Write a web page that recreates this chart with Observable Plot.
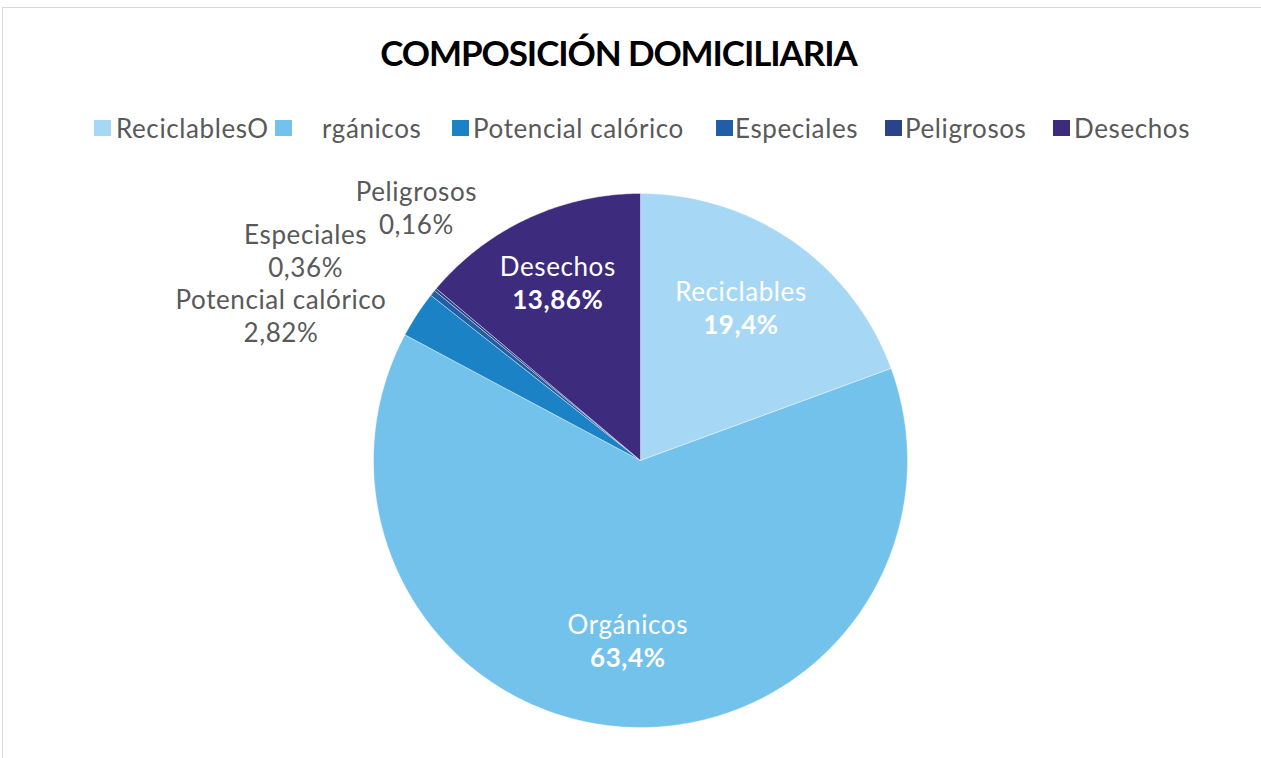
<!DOCTYPE html>
<html>
<head>
<meta charset="utf-8">
<script src="https://cdn.jsdelivr.net/npm/d3@7"></script>
<script src="https://cdn.jsdelivr.net/npm/@observablehq/plot@0.6"></script>
<style>
  html, body { margin: 0; padding: 0; background: #fff; }
  #wrap { position: relative; width: 1261px; height: 758px; overflow: hidden; font-family: Lato, "Open Sans", sans-serif; }
  #frame { position: absolute; left: 2px; top: 7px; width: 1300px; height: 800px; border-left: 1.5px solid #d9d9d9; border-top: 1.5px solid #d9d9d9; }
  #title { position: absolute; left: -12px; width: 1261px; top: 31px; text-align: center; font-size: 35px; font-weight: 700; letter-spacing: -1.1px; color: #000; }
  .leg { position: absolute; top: 113px; font-size: 26px; letter-spacing: 0.6px; color: #595959; white-space: pre; line-height: 30px; }
  .sw { position: absolute; top: 120px; width: 17px; height: 16px; }
  #chart { position: absolute; left: 0; top: 0; }
</style>
</head>
<body>
<div id="wrap">
  <div id="frame"></div>
  <div id="title">COMPOSICIÓN DOMICILIARIA</div>
  <div id="legend"></div>
  <div id="chart"></div>
</div>
<script>
// ---- data ----
const categories = ["Reciclables", "Orgánicos", "Potencial calórico", "Especiales", "Peligrosos", "Desechos"];
const values = [19.4, 63.4, 2.82, 0.36, 0.16, 13.86];
const valueLabels = ["19,4%", "63,4%", "2,82%", "0,36%", "0,16%", "13,86%"];
const colors = ["#a6d8f5", "#73c2ec", "#1a82c5", "#215ea6", "#2b4388", "#3d2b7e"];
const legendLabels = ["ReciclablesO", "rgánicos", "Potencial calórico", "Especiales", "Peligrosos", "Desechos"];
const insideLabel = [true, true, false, false, false, true];

// ---- layout (not data) ----
const cx = 640, cy = 460, R = 267;
const legendSwatchX = [94, 275, 452, 716, 885, 1053];
const legendTextX = [116, 322, 473, 735, 905, 1074];
const labelNudge = { // pixel nudges from the anchor point on the slice's mid-angle
  "Reciclables": [-5, 0],
  "Orgánicos": [0, -2],
  "Desechos": [-5, -9],
  "Potencial calórico": [-136, 3],
  "Especiales": [-127, -41],
  "Peligrosos": [-19, -80]
};

// legend
const legend = document.getElementById("legend");
legendLabels.forEach((t, i) => {
  const sw = document.createElement("div");
  sw.className = "sw"; sw.style.left = legendSwatchX[i] + "px"; sw.style.background = colors[i];
  legend.appendChild(sw);
  const tx = document.createElement("div");
  tx.className = "leg"; tx.style.left = legendTextX[i] + "px"; tx.textContent = t;
  legend.appendChild(tx);
});

// pie geometry
const rows = categories.map((c, i) => ({ name: c, value: values[i], label: valueLabels[i], color: colors[i], inside: insideLabel[i] }));
const arcs = d3.pie().sort(null).value(d => d.value)(rows);
const poly = [];
arcs.forEach(a => {
  const n = Math.max(2, Math.ceil((a.endAngle - a.startAngle) / 0.01));
  poly.push({ name: a.data.name, x: 0, y: 0 });
  for (let k = 0; k <= n; k++) {
    const t = a.startAngle + (a.endAngle - a.startAngle) * k / n;
    poly.push({ name: a.data.name, x: Math.sin(t), y: Math.cos(t) });
  }
  poly.push({ name: a.data.name, x: 0, y: 0 });
});
const labels = arcs.map(a => {
  const m = (a.startAngle + a.endAngle) / 2;
  const r = a.data.inside ? 0.69 : 1.0;
  const nudge = labelNudge[a.data.name];
  return { ...a.data, x: r * Math.sin(m), y: r * Math.cos(m), dx: nudge[0], dy: nudge[1] };
});

const font = { fontSize: 26, letterSpacing: "0.6px" };
const plot = Plot.plot({
  width: 1261, height: 758, margin: 0,
  x: { domain: [-1, 1], range: [cx - R, cx + R], axis: null },
  y: { domain: [-1, 1], range: [cy + R, cy - R], axis: null },
  color: { domain: categories, range: colors },
  style: { fontFamily: "Lato, 'Open Sans', sans-serif", background: "transparent", letterSpacing: "0.6px" },
  marks: [
    Plot.line(poly, { x: "x", y: "y", z: "name", fill: "name", stroke: "#ffffff", strokeWidth: 0.4, curve: "linear" }),
    ...labels.map(d => Plot.text([d], { x: "x", y: "y", text: "name", dx: d.dx, dy: d.dy - 16.5, fill: d.inside ? "white" : "#595959", fontSize: 26 })),
    ...labels.map(d => Plot.text([d], { x: "x", y: "y", text: "label", dx: d.dx, dy: d.dy + 16.5, fill: d.inside ? "white" : "#595959", fontSize: 26, fontWeight: d.inside ? 700 : 400 }))
  ]
});
document.getElementById("chart").appendChild(plot);
</script>
</body>
</html>
